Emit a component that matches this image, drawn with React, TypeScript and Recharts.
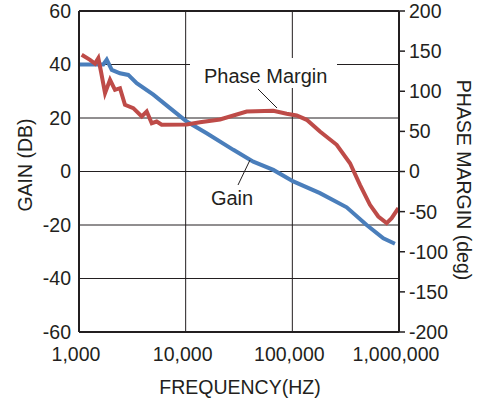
import React from "react";
import { LineChart, Line, XAxis, YAxis, CartesianGrid, ReferenceLine } from "recharts";

const xTicks = [1000, 10000, 100000, 1000000];
const gainTicks = [-60, -40, -20, 0, 20, 40, 60];
const phaseTicks = [-200, -150, -100, -50, 0, 50, 100, 150, 200];

const gainFreq = [1021, 1353, 1690, 1820, 2028, 2422, 2897, 3475, 4977, 7129, 10230, 15740, 27990, 43050, 66330, 102100, 181600, 323300, 497600, 712900, 916000];
const gainDb = [40, 40, 40, 41.8, 38, 36.7, 36.1, 33, 28.7, 23.7, 18.7, 14.3, 8.1, 3.7, 0.6, -3.7, -8.1, -13.4, -20, -25, -27];

const phaseFreq = [1060, 1268, 1412, 1517, 1607, 1754, 1954, 2175, 2422, 2698, 3228, 3873, 4315, 4808, 5348, 5957, 10230, 13610, 20990, 37330, 66330, 88510, 109800, 136400, 181600, 260600, 347400, 430700, 534400, 639700, 766100, 853500, 986000];
const phaseDeg = [145.4, 139.2, 134.6, 141.2, 124.6, 97.6, 114.3, 101.8, 103.8, 83.1, 78.9, 68.5, 74.8, 60.2, 62.3, 58.2, 58.6, 61.4, 64.8, 74.8, 75.6, 71.9, 69.8, 64.4, 49.8, 33.3, 10.3, -16.6, -41.5, -56.1, -64.4, -58.2, -45.7];

const gainData = gainFreq.map((f, i) => ({ f, g: gainDb[i] }));
const phaseData = phaseFreq.map((f, i) => ({ f, p: phaseDeg[i] }));

const FONT = "'Liberation Sans', Arial, Helvetica, sans-serif";
const tickStyle = { fontFamily: FONT, fontSize: 19.5, fill: "#231f20" };

export default function App() {
  return (
    <div style={{ position: "absolute", left: 0, top: 0, width: 483, height: 404, background: "#fff" }}>
      <LineChart width={483} height={404} margin={{ top: 11, right: 0, bottom: 0, left: 0 }}>
        <CartesianGrid stroke="#231f20" strokeWidth={1} horizontalValues={gainTicks} verticalValues={xTicks} yAxisId="gain" />
        <XAxis
          dataKey="f"
          type="number"
          scale="log"
          domain={[1000, 1000000]}
          ticks={xTicks}
          allowDataOverflow
          height={72}
          tickLine={false}
          tickMargin={9}
          axisLine={{ stroke: "#231f20", strokeWidth: 2 }}
          tick={{ ...tickStyle, dx: -3 }}
          tickFormatter={(v: number) => v.toLocaleString("en-US")}
        />
        <YAxis
          yAxisId="gain"
          orientation="left"
          type="number"
          domain={[-60, 60]}
          ticks={gainTicks}
          width={79}
          tickLine={false}
          axisLine={{ stroke: "#231f20", strokeWidth: 2 }}
          tick={tickStyle}
        />
        <YAxis
          yAxisId="phase"
          orientation="right"
          type="number"
          domain={[-200, 200]}
          ticks={phaseTicks}
          width={84}
          tickSize={6}
          tickMargin={4}
          tickLine={{ stroke: "#231f20", strokeWidth: 1.5 }}
          axisLine={{ stroke: "#231f20", strokeWidth: 2 }}
          tick={tickStyle}
        />
        <ReferenceLine yAxisId="gain" y={60} stroke="#231f20" strokeWidth={2} />
        <Line
          yAxisId="gain"
          data={gainData}
          dataKey="g"
          type="linear"
          stroke="#4a7ebb"
          strokeWidth={4}
          dot={false}
          isAnimationActive={false}
        />
        <Line
          yAxisId="phase"
          data={phaseData}
          dataKey="p"
          type="linear"
          stroke="#be4b48"
          strokeWidth={4}
          dot={false}
          isAnimationActive={false}
        />
      </LineChart>
      <svg width={483} height={404} style={{ position: "absolute", left: 0, top: 0, pointerEvents: "none" }}>
        <rect x={190} y={58} width={147} height={30} fill="#fff" />
        <text x={265.7} y={83.3} textAnchor="middle" fontFamily={FONT} fontSize={20} fill="#231f20">Phase Margin</text>
        <line x1={258} y1={89} x2={277} y2={108} stroke="#231f20" strokeWidth={1} />
        <text x={232} y={205} textAnchor="middle" fontFamily={FONT} fontSize={20} fill="#231f20">Gain</text>
        <line x1={238} y1={185} x2={250} y2={160} stroke="#231f20" strokeWidth={1} />
        <text transform="translate(31.5,165) rotate(-90)" textAnchor="middle" fontFamily={FONT} fontSize={19.5} fill="#231f20">GAIN (DB)</text>
        <text transform="translate(457,180) rotate(90)" textAnchor="middle" fontFamily={FONT} fontSize={19.5} fill="#231f20">PHASE MARGIN (deg)</text>
        <text x={240} y={394} textAnchor="middle" fontFamily={FONT} fontSize={19.5} fill="#231f20">FREQUENCY(HZ)</text>
      </svg>
    </div>
  );
}
